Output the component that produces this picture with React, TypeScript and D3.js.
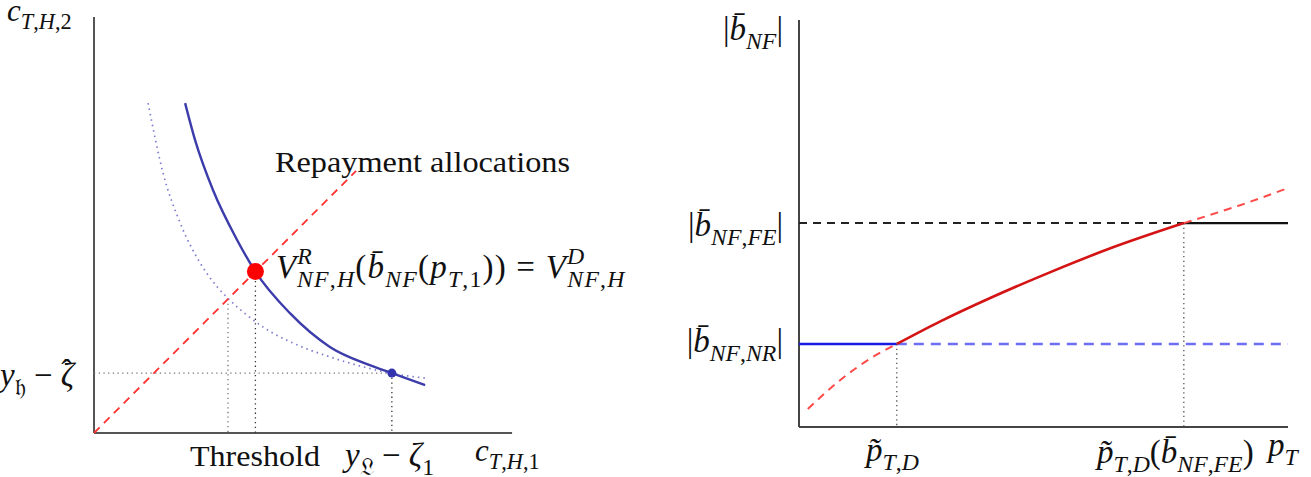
import React from 'react'
import * as d3 from 'd3'

// left panel: indifference curves (unit grid 0..10)
const indiffSolid: [number, number][] = [[2.19, 7.93], [2.43, 7.04], [2.86, 5.84], [3.44, 4.64], [3.88, 3.88], [4.71, 2.88], [5.67, 2.07], [6.63, 1.63], [7.16, 1.44], [7.96, 1.15]]
const indiffDotted: [number, number][] = [[1.30, 7.93], [1.66, 6.25], [2.07, 5.05], [2.55, 4.09], [2.98, 3.49], [3.22, 3.24], [4.06, 2.55], [4.88, 2.12], [5.67, 1.83], [6.47, 1.59], [7.12, 1.44], [7.96, 1.32]]
const diagonal: [number, number][] = [[0, 0], [6.3, 6.3]]
const repayPoint: [number, number] = [3.88, 3.88]
const endowPoint: [number, number] = [7.16, 1.44]
const thresholdX = 3.22

// right panel
const redCurve: [number, number][] = [[0.18, 0.44], [0.84, 1.15], [1.51, 1.72], [2.0, 2.04], [2.88, 2.59], [3.91, 3.17], [5.13, 3.80], [6.30, 4.36], [7.87, 5.01], [9.02, 5.45], [10.0, 5.87]]
const pTD = 2.0
const pFE = 7.87
const bNR = 2.04
const bFE = 5.01
const xMaxR = 10

const FONT = '"Liberation Serif", "Times New Roman", serif'

type Piece = { t: string; l?: number; dx?: number; up?: number }

const MathText = ({ x, y, parts, size = 33, anchor = 'start', spacing = 0 }: { x: number; y: number; parts: Piece[]; size?: number; anchor?: string; spacing?: number }) => {
    let prev = 0
    const spans: any[] = []
    parts.forEach((p, k) => {
        const off = (p.l === -1 ? size * 0.26 : p.l === 1 ? -size * 0.42 : 0) - (p.up || 0)
        const runs = p.t.match(/[A-Za-z\u03b1-\u03c9\u0300-\u036f]+|[^A-Za-z\u03b1-\u03c9\u0300-\u036f]+/g) || []
        runs.forEach((r, j) => {
            const it = /[A-Za-z\u03b1-\u03c9]/.test(r)
            spans.push(
                <tspan key={k + '-' + j} dy={j === 0 ? off - prev : 0} dx={j === 0 ? p.dx : undefined}
                    fontSize={p.l ? size * 0.72 : size}
                    fontStyle={it ? 'italic' : 'normal'}>{r}</tspan>
            )
        })
        prev = off
    })
    return <text x={x} y={y} fontFamily={FONT} textAnchor={anchor} letterSpacing={spacing} fill="#111">{spans}</text>
}

const App = () => {
    const xL = d3.scaleLinear([0, 10], [94, 510])
    const yL = d3.scaleLinear([0, 10], [433, 17])
    const xR = d3.scaleLinear([0, 10], [799, 1288])
    const yR = d3.scaleLinear([0, 10], [427, 20])

    const lineL = d3.line<[number, number]>().x(d => xL(d[0])).y(d => yL(d[1])).curve(d3.curveMonotoneX)
    const lineR = d3.line<[number, number]>().x(d => xR(d[0])).y(d => yR(d[1])).curve(d3.curveMonotoneX)

    const redLeft = redCurve.filter(d => d[0] <= pTD)
    const redMid = redCurve.filter(d => d[0] >= pTD && d[0] <= pFE)
    const redRight = redCurve.filter(d => d[0] >= pFE)

    const dot = '1.3 3.4'

    return (
        <svg width={1311} height={477} style={{ position: 'absolute', left: 0, top: 0, background: '#fff' }}>
            {/* ---- left panel ---- */}
            <line x1={xL(0)} y1={yL(0)} x2={xL(0)} y2={yL(10)} stroke="#555" strokeWidth={2} />
            <line x1={xL(0)} y1={yL(0)} x2={xL(10.05)} y2={yL(0)} stroke="#555" strokeWidth={2} />

            <line x1={xL(0)} y1={yL(endowPoint[1])} x2={xL(endowPoint[0])} y2={yL(endowPoint[1])} stroke="#777" strokeWidth={1.3} strokeDasharray={dot} />
            <line x1={xL(endowPoint[0])} y1={yL(endowPoint[1])} x2={xL(endowPoint[0])} y2={yL(0)} stroke="#333" strokeWidth={1.3} strokeDasharray={dot} />
            <line x1={xL(repayPoint[0])} y1={yL(repayPoint[1])} x2={xL(repayPoint[0])} y2={yL(0)} stroke="#333" strokeWidth={1.3} strokeDasharray={dot} />
            <line x1={xL(thresholdX)} y1={yL(thresholdX)} x2={xL(thresholdX)} y2={yL(0)} stroke="#777" strokeWidth={1.3} strokeDasharray={dot} />

            <path d={lineL(indiffDotted) || ''} fill="none" stroke="#7b7bd0" strokeWidth={1.7} strokeDasharray="1.5 4" />
            <path d={lineL(indiffSolid) || ''} fill="none" stroke="#3c3cab" strokeWidth={2.4} />
            <path d={lineL(diagonal) || ''} fill="none" stroke="#ff3030" strokeWidth={1.8} strokeDasharray="8 6" />

            <circle cx={xL(repayPoint[0])} cy={yL(repayPoint[1])} r={8.5} fill="#ff0000" />
            <circle cx={xL(endowPoint[0])} cy={yL(endowPoint[1])} r={4.5} fill="#3333b0" />

            <MathText x={7} y={21} size={31} parts={[{ t: 'c' }, { t: 'T,H,2', l: -1 }]} />
            <MathText x={0} y={386} parts={[{ t: 'y' }, { t: '\u{1D525}', l: -1 }, { t: ' \u2212 \u03B6' }, { t: '\u02C6', dx: -13, up: 3 }]} />
            <text x={190} y={466} fontFamily={FONT} fontSize={30} textLength={130} lengthAdjust="spacingAndGlyphs" fill="#111">Threshold</text>
            <MathText x={345} y={466} parts={[{ t: 'y' }, { t: '\u{1D50F}', l: -1 }, { t: ' \u2212 \u03B6' }, { t: '1', l: -1 }]} />
            <MathText x={475} y={461} size={31} parts={[{ t: 'c' }, { t: 'T,H,1', l: -1 }]} />
            <text x={275} y={172} fontFamily={FONT} fontSize={30} textLength={295} lengthAdjust="spacingAndGlyphs" fill="#111">Repayment allocations</text>
            <MathText x={276} y={278} spacing={1.2} parts={[
                { t: 'V' }, { t: 'R', l: 1 }, { t: 'NF,H', l: -1, dx: -16 },
                { t: '(b\u0304' }, { t: 'NF', l: -1 }, { t: '(p' }, { t: 'T,1', l: -1 },
                { t: ')) = V' }, { t: 'D', l: 1 }, { t: 'NF,H', l: -1, dx: -18 }]} />

            {/* ---- right panel ---- */}
            <line x1={xR(0)} y1={yR(0)} x2={xR(0)} y2={yR(10)} stroke="#444" strokeWidth={2} />
            <line x1={xR(0)} y1={yR(0)} x2={xR(xMaxR)} y2={yR(0)} stroke="#444" strokeWidth={2} />

            <line x1={xR(0)} y1={yR(bFE)} x2={xR(pFE)} y2={yR(bFE)} stroke="#222" strokeWidth={2} strokeDasharray="8 6" />
            <line x1={xR(pFE)} y1={yR(bFE)} x2={xR(xMaxR)} y2={yR(bFE)} stroke="#111" strokeWidth={2.4} />
            <line x1={xR(0)} y1={yR(bNR)} x2={xR(pTD)} y2={yR(bNR)} stroke="#1a1ae6" strokeWidth={2.4} />
            <line x1={xR(pTD)} y1={yR(bNR)} x2={xR(xMaxR)} y2={yR(bNR)} stroke="#6e6ef5" strokeWidth={2.4} strokeDasharray="10 7" />
            <line x1={xR(pTD)} y1={yR(bNR)} x2={xR(pTD)} y2={yR(0)} stroke="#444" strokeWidth={1.2} strokeDasharray={dot} />
            <line x1={xR(pFE)} y1={yR(bFE)} x2={xR(pFE)} y2={yR(0)} stroke="#444" strokeWidth={1.2} strokeDasharray={dot} />

            <path d={lineR(redLeft) || ''} fill="none" stroke="#ff4a4a" strokeWidth={2} strokeDasharray="8 6" />
            <path d={lineR(redRight) || ''} fill="none" stroke="#ff4a4a" strokeWidth={2} strokeDasharray="8 6" />
            <path d={lineR(redMid) || ''} fill="none" stroke="#d41414" strokeWidth={2.6} />

            <MathText x={783} y={40} anchor="end" parts={[{ t: '|b\u0304' }, { t: 'NF', l: -1 }, { t: '|' }]} />
            <MathText x={783} y={236} anchor="end" parts={[{ t: '|b\u0304' }, { t: 'NF,FE', l: -1 }, { t: '|' }]} />
            <MathText x={783} y={352} anchor="end" parts={[{ t: '|b\u0304' }, { t: 'NF,NR', l: -1 }, { t: '|' }]} />
            <MathText x={866} y={461} parts={[{ t: 'p\u0303' }, { t: 'T,D', l: -1 }]} />
            <MathText x={1097} y={463} parts={[{ t: 'p\u0303' }, { t: 'T,D', l: -1 }, { t: '(b\u0304' }, { t: 'NF,FE', l: -1 }, { t: ')' }]} />
            <MathText x={1268} y={456} parts={[{ t: 'p' }, { t: 'T', l: -1 }]} />
        </svg>
    )
}

export default App
